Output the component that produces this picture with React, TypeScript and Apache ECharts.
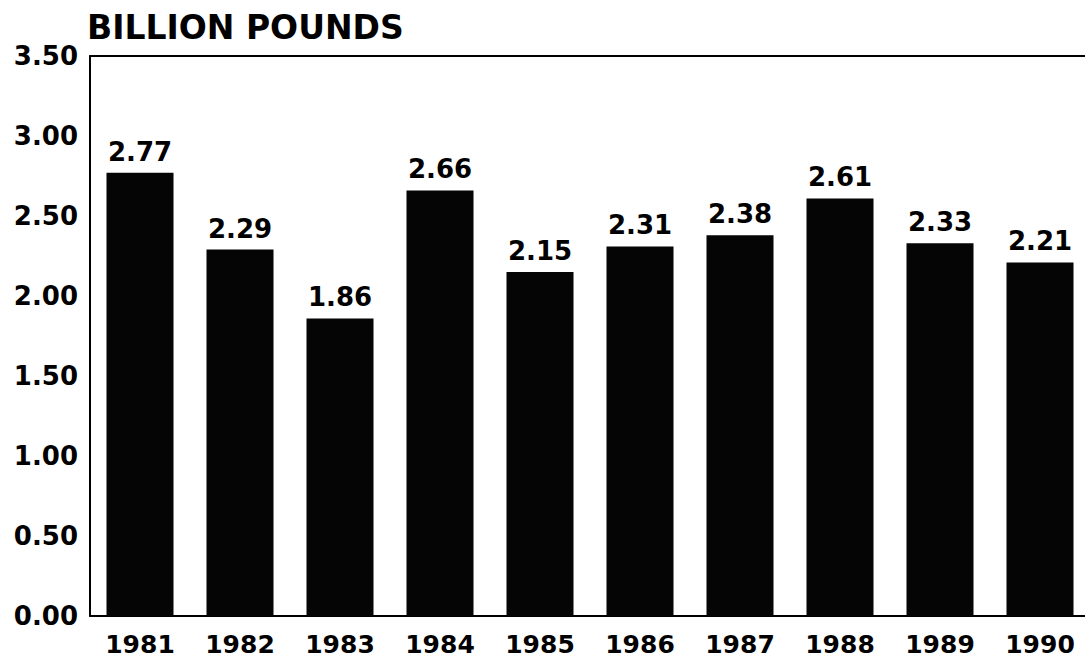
import React, { useEffect, useRef } from "react";
import * as echarts from "echarts";

const years = ["1981", "1982", "1983", "1984", "1985", "1986", "1987", "1988", "1989", "1990"];
const values = [2.77, 2.29, 1.86, 2.66, 2.15, 2.31, 2.38, 2.61, 2.33, 2.21];
const titleText = "BILLION POUNDS";
const yMin = 0;
const yMax = 3.5;
const yInterval = 0.5;

const FONT = "DejaVu Sans";

export default function App() {
  const ref = useRef<HTMLDivElement>(null);
  useEffect(() => {
    if (!ref.current) return;
    const chart = echarts.init(ref.current, null, { renderer: "svg" });
    chart.setOption({
      animation: false,
      backgroundColor: "#ffffff",
      title: {
        text: titleText,
        left: 87,
        top: 11,
        textStyle: { fontFamily: FONT, fontSize: 33, fontWeight: "bold", color: "#000" },
        padding: 0,
      },
      grid: {
        left: 90,
        width: 1000,
        top: 56,
        bottom: 43,
        containLabel: false,
        outerBoundsMode: "none",
        show: false,
      },
      xAxis: [
        {
          type: "category",
          data: years,
          axisTick: { show: false },
          axisLine: { lineStyle: { color: "#000", width: 2 } },
          axisLabel: { fontFamily: FONT, fontSize: 25, fontWeight: "bold", color: "#000", margin: 18, lineHeight: 20 },
        },
        {
          type: "category",
          data: years,
          position: "top",
          axisTick: { show: false },
          axisLabel: { show: false },
          axisLine: { show: true, lineStyle: { color: "#000", width: 2 } },
        },
      ],
      yAxis: {
        type: "value",
        min: yMin,
        max: yMax,
        interval: yInterval,
        axisLine: { show: true, lineStyle: { color: "#000", width: 2 } },
        axisTick: { show: false },
        splitLine: { show: false },
        axisLabel: {
          fontFamily: FONT,
          fontSize: 26,
          fontWeight: "bold",
          color: "#000",
          margin: 12,
          formatter: (v: number) => v.toFixed(2),
        },
      },
      series: [
        {
          type: "bar",
          data: values,
          barWidth: 67,
          itemStyle: { color: "#050505" },
          label: {
            show: true,
            position: "top",
            distance: 8,
            fontFamily: FONT,
            fontSize: 26,
            fontWeight: "bold",
            color: "#000",
            formatter: (p: any) => Number(p.value).toFixed(2),
          },
        },
      ],
    });
    return () => chart.dispose();
  }, []);
  return (
    <div style={{ width: 1085, height: 659, position: "absolute", left: 0, top: 0, overflow: "hidden" }}>
      <div ref={ref} style={{ width: 1100, height: 659 }} />
    </div>
  );
}
